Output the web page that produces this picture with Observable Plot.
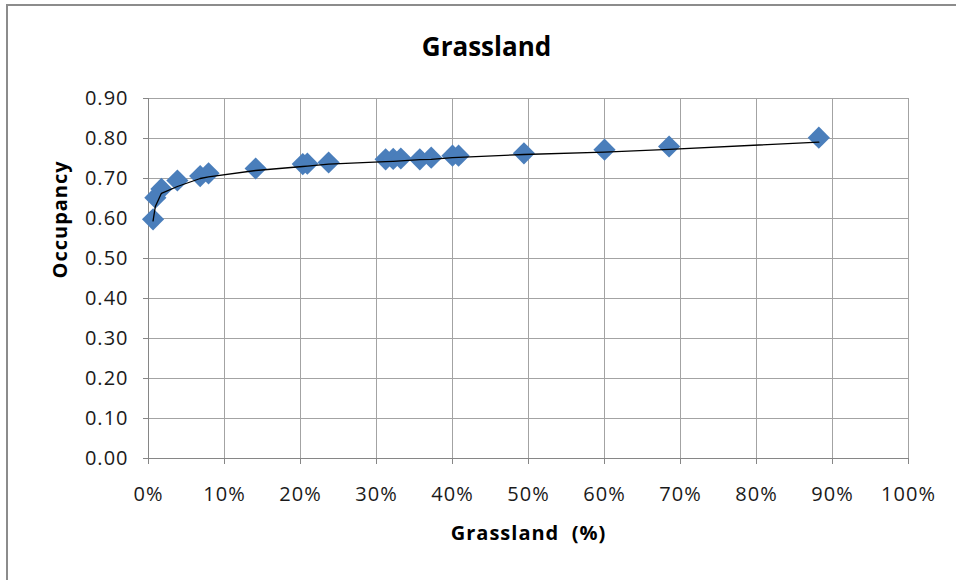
<!DOCTYPE html>
<html>
<head>
<meta charset="utf-8">
<script src="https://cdn.jsdelivr.net/npm/d3@7"></script>
<script src="https://cdn.jsdelivr.net/npm/@observablehq/plot@0.6"></script>
<style>
  html, body { margin: 0; padding: 0; background: #fff; width: 956px; height: 580px; overflow: hidden; }
  #frame { position: absolute; left: 6px; top: 4px; width: 1000px; height: 620px; border: 2px solid #8c8c8c; box-sizing: border-box; }
  #chart { position: absolute; left: 0; top: 0; }
  #chart svg text { letter-spacing: 1px; }
</style>
</head>
<body>
<div id="frame"></div>
<div id="chart"></div>
<script>
// Grassland cover (%) of each site
const grassPct = [0.6, 0.9, 1.7, 3.8, 6.8, 7.9, 14.1, 20.3, 20.9, 23.7, 31.2, 32.2, 33.2, 35.7, 37.2, 40.0, 40.8, 49.4, 60.0, 68.5, 88.2];
// Observed occupancy
const occupancy = [0.598, 0.652, 0.674, 0.695, 0.706, 0.713, 0.725, 0.736, 0.737, 0.740, 0.748, 0.749, 0.750, 0.748, 0.752, 0.757, 0.757, 0.763, 0.772, 0.780, 0.802];
// Fitted occupancy (trend line)
const fitted = [0.594, 0.630, 0.663, 0.680, 0.700, 0.704, 0.720, 0.730, 0.731, 0.736, 0.742, 0.743, 0.744, 0.747, 0.748, 0.752, 0.753, 0.760, 0.766, 0.773, 0.791];
// Tick labels
const xTicks = [0, 10, 20, 30, 40, 50, 60, 70, 80, 90, 100];
const yTicks = [0, 0.1, 0.2, 0.3, 0.4, 0.5, 0.6, 0.7, 0.8, 0.9];
const titleText = "Grassland";
const xLabel = "Grassland  (%)";
const yLabel = "Occupancy";

const data = grassPct.map((g, i) => ({g, occ: occupancy[i], fit: fitted[i]}));

const chart = Plot.plot({
  width: 956,
  height: 580,
  marginLeft: 148,
  marginRight: 48,
  marginTop: 98,
  marginBottom: 122,
  style: {fontFamily: "'Open Sans', sans-serif", fontSize: "20px", color: "#1a1a1a", background: "transparent", overflow: "visible"},
  x: {domain: [0, 100]},
  y: {domain: [0, 0.9]},
  marks: [
    Plot.gridX(xTicks, {stroke: "#a3a3a3", strokeOpacity: 1}),
    Plot.gridY(yTicks, {stroke: "#a3a3a3", strokeOpacity: 1}),
    Plot.ruleY([0], {stroke: "#868686"}),
    Plot.ruleX([0], {stroke: "#868686"}),
    Plot.axisX(xTicks, {tickFormat: d => d + "%", tickSize: 6, tickPadding: 22, stroke: "#868686", label: null}),
    Plot.axisY(yTicks, {tickFormat: d3.format(".2f"), tickSize: 5, tickPadding: 15, stroke: "#868686", label: null}),
    Plot.dot(data, {x: "g", y: "occ", symbol: "diamond2", r: 10, fill: "#4a7ebb", stroke: null}),
    Plot.line(data, {x: "g", y: "fit", stroke: "#000", strokeWidth: 1.3}),
    Plot.text([titleText], {frameAnchor: "top", dx: -42, dy: -61, fontSize: 26, fontWeight: "bold", fill: "#000"}),
    Plot.text([xLabel], {frameAnchor: "bottom", dy: 81, fontSize: 20, fontWeight: "bold", fill: "#000"}),
    Plot.text([yLabel], {frameAnchor: "left", dx: -88, rotate: -90, fontSize: 20, fontWeight: "bold", fill: "#000"})
  ]
});
d3.select(chart).selectAll("text").filter(function() { return this.textContent === titleText; }).style("letter-spacing", "0px");
document.getElementById("chart").appendChild(chart);
</script>
</body>
</html>
